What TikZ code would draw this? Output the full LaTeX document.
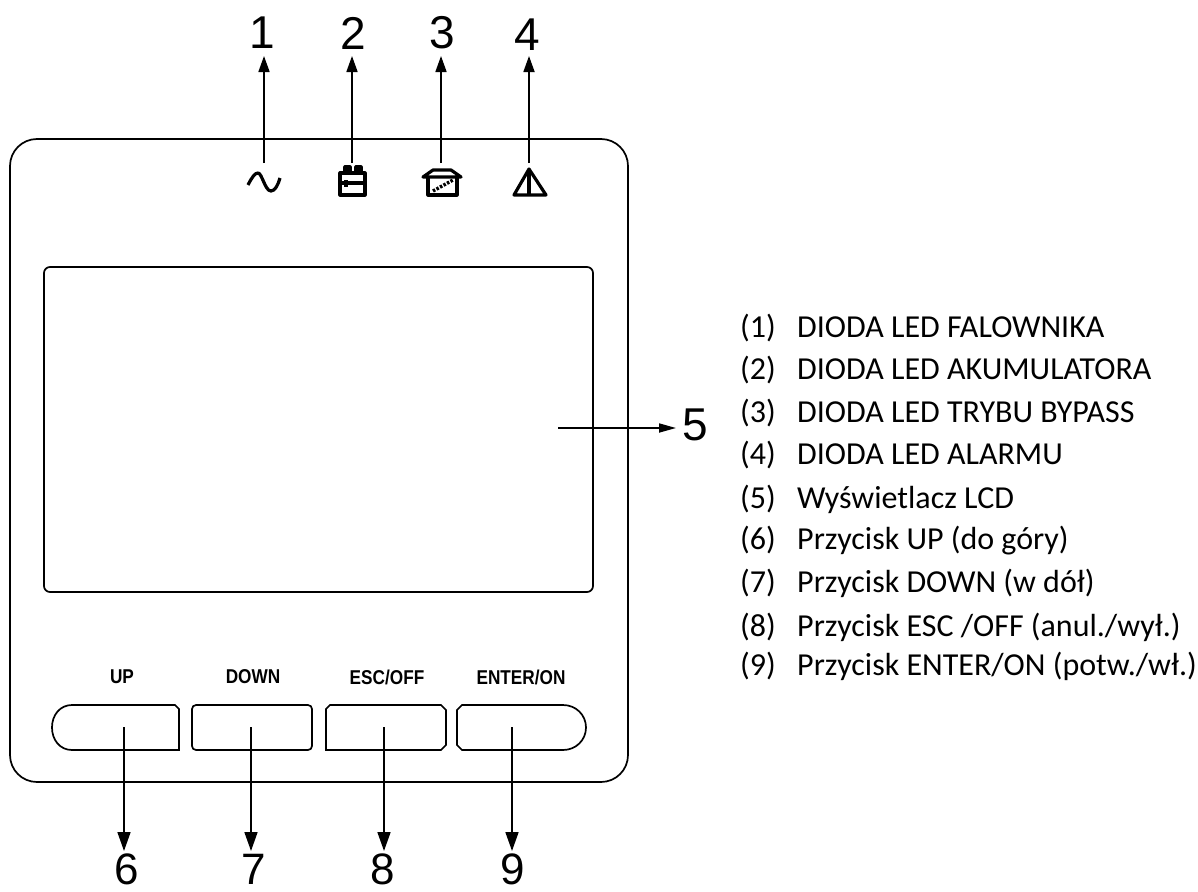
\documentclass[tikz,border=0pt]{standalone}
\usepackage{fontspec}
\setmainfont{Carlito}
\newfontfamily\arialf{Liberation Sans}
\usetikzlibrary{arrows.meta}
\tikzset{
  x=1pt,y=-1pt,
  panel/.style={draw=black,line width=1.7pt},
  pointer/.style={draw=black,line width=1.7pt,-{Triangle[length=16pt,width=11pt]}},
  pointerlow/.style={draw=black,line width=1.7pt,-{Triangle[length=19pt,width=13pt]}},
  num/.style={font=\arialf\fontsize{46}{46}\selectfont,inner sep=0pt,anchor=center},
  numlow/.style={font=\arialf\fontsize{44}{44}\selectfont,inner sep=0pt,anchor=center},
  btn/.style={font=\arialf\bfseries\fontsize{20}{20}\selectfont,inner sep=0pt,anchor=center,xscale=0.86},
  legend/.style={font=\fontsize{32}{36}\selectfont,inner sep=0pt,anchor=base west},
  icon/.style={draw=black,line width=3.2pt,line join=round},
}
\begin{document}
\begin{tikzpicture}
\useasboundingbox (0,0) rectangle (1198,891);
% outer panel
\draw[panel,rounded corners=27pt] (10,139) -- (628,139) -- (628,782) -- (10,782) -- cycle;
% LCD
\draw[panel,rounded corners=6pt] (44,267) -- (593,267) -- (593,592) -- (44,592) -- cycle;
% buttons
\draw[panel] (72,705) -- (175,705) -- (179,709) -- (179,750) -- (72,750) .. controls (60,750) and (52,740) .. (52,727.5) .. controls (52,715) and (60,705) .. (72,705) -- cycle;
\draw[panel,rounded corners=4pt] (192,705) -- (312,705) -- (312,750) -- (192,750) -- cycle;
\draw[panel] (330,705) -- (441,705) -- (446,710) -- (446,745) -- (441,750) -- (326,750) -- (326,709) -- cycle;
\draw[panel] (462,705) -- (563,705) .. controls (576,705) and (586,715) .. (586,727.5) .. controls (586,740) and (576,750) .. (563,750) -- (462,750) -- (457,745) -- (457,710) -- cycle;
% button labels
\node[btn] (lup) at (122,677) {UP};
\node[btn] (ldown) at (253,677) {DOWN};
\node[btn] (lesc) at (387,677) {ESC/OFF};
\node[btn] (lent) at (521,677) {ENTER/ON};
% numbers
\node[num] (n1) at (262,33) {1};
\node[num] (n2) at (353,33) {2};
\node[num] (n3) at (442,33) {3};
\node[num] (n4) at (527,35) {4};
\node[num] (n5) at (695,425) {5};
\node[numlow] (n6) at (127,869) {6};
\node[numlow] (n7) at (254,869) {7};
\node[numlow] (n8) at (383,869) {8};
\node[numlow] (n9) at (513,869) {9};
% connector ends
\coordinate (s1) at (264,163);
\coordinate (s2) at (352,163);
\coordinate (s3) at (441,163);
\coordinate (s4) at (529,163);
\coordinate (s5) at (558,428);
\coordinate (s6) at (124,727);
\coordinate (s7) at (251,727);
\coordinate (s8) at (384,727);
\coordinate (s9) at (512,727);
\coordinate (e1) at (264,56);
\coordinate (e2) at (352,56);
\coordinate (e3) at (441,56);
\coordinate (e4) at (529,56);
\coordinate (e5) at (676,428);
\coordinate (e6) at (124,851);
\coordinate (e7) at (251,851);
\coordinate (e8) at (384,851);
\coordinate (e9) at (512,851);
\draw[pointer] (s1) -- (e1);
\draw[pointer] (s2) -- (e2);
\draw[pointer] (s3) -- (e3);
\draw[pointer] (s4) -- (e4);
\draw[pointer,-{Triangle[length=17pt,width=9pt]}] (s5) -- (e5);
\draw[pointerlow] (s6) -- (e6);
\draw[pointerlow] (s7) -- (e7);
\draw[pointerlow] (s8) -- (e8);
\draw[pointerlow] (s9) -- (e9);
% icons: sine
\draw[icon] (248,185) .. controls (252,177) and (255,173) .. (258,173) .. controls (262,173) and (265,191) .. (271,191) .. controls (275,191) and (278,185) .. (280,178);
% battery
\draw[icon] (340,173) rectangle (365,195);
\draw[icon,fill=black] (345,167) rectangle (350,173);
\draw[icon,fill=black] (356,167) rectangle (361,173);
\draw[icon] (340,183) -- (365,183);
\draw[icon] (346,180) -- (346,187);
% bypass house
\draw[icon] (423,177) -- (433,170) -- (451,170) -- (461,177) -- cycle;
\draw[icon] (428,177) -- (428,195) -- (457,195) -- (457,177);
\draw[icon,line width=3.4pt,dash pattern=on 2.5pt off 1.5pt] (433,191) -- (453,180);
% warning
\draw[icon] (529,169) -- (514,195) -- (546,195) -- cycle;
\draw[icon] (529,170) -- (529,194);
% legend
\node[legend] (t1) at (740,337) {(1)};\node[legend] (d1) at (797,337) {DIODA LED FALOWNIKA};
\node[legend] (t2) at (740,379) {(2)};\node[legend] (d2) at (797,379) {DIODA LED AKUMULATORA};
\node[legend] (t3) at (740,422) {(3)};\node[legend] (d3) at (797,422) {DIODA LED TRYBU BYPASS};
\node[legend] (t4) at (740,464) {(4)};\node[legend] (d4) at (797,464) {DIODA LED ALARMU};
\node[legend] (t5) at (740,508) {(5)};\node[legend] (d5) at (797,508) {Wyświetlacz LCD};
\node[legend] (t6) at (740,549) {(6)};\node[legend] (d6) at (797,549) {Przycisk UP (do góry)};
\node[legend] (t7) at (740,592) {(7)};\node[legend] (d7) at (797,592) {Przycisk DOWN (w dół)};
\node[legend] (t8) at (740,636) {(8)};\node[legend] (d8) at (797,636) {Przycisk ESC /OFF (anul./wył.)};
\node[legend] (t9) at (740,675) {(9)};\node[legend] (d9) at (797,675) {Przycisk ENTER/ON (potw./wł.)};
\end{tikzpicture}
\end{document}
